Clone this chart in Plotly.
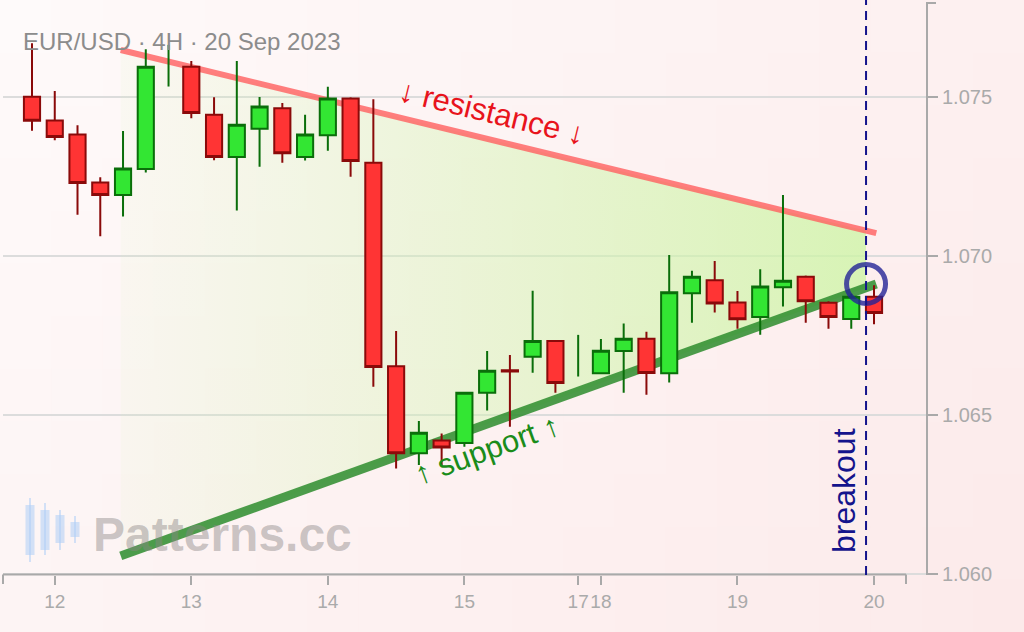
import plotly.graph_objects as go

# ---------------- data ----------------
candle_idx = list(range(38))
open_ = [1.07500, 1.07425, 1.07381, 1.07230, 1.07191, 1.07273, 1.07600, 1.07594,
         1.07443, 1.07310, 1.07399, 1.07464, 1.07310, 1.07379, 1.07494, 1.07292,
         1.06652, 1.06379, 1.06419, 1.06411, 1.06569, 1.06640, 1.06682, 1.06732,
         1.06690, 1.06630, 1.06700, 1.06739, 1.06630, 1.06882, 1.06923, 1.06853,
         1.06807, 1.06901, 1.06934, 1.06852, 1.06801, 1.06871]
high = [1.07668, 1.07518, 1.07410, 1.07247, 1.07392, 1.07649, 1.07663, 1.07612,
        1.07498, 1.07612, 1.07499, 1.07480, 1.07443, 1.07531, 1.07498, 1.07492,
        1.06763, 1.06480, 1.06441, 1.06570, 1.06700, 1.06688, 1.06890, 1.06733,
        1.06751, 1.06738, 1.06787, 1.06761, 1.07002, 1.06953, 1.06983, 1.06889,
        1.06957, 1.07191, 1.06938, 1.06857, 1.06880, 1.06907]
low = [1.07393, 1.07363, 1.07129, 1.07061, 1.07123, 1.07262, 1.07532, 1.07432,
       1.07300, 1.07142, 1.07280, 1.07292, 1.07299, 1.07330, 1.07248, 1.06588,
       1.06331, 1.06342, 1.06342, 1.06399, 1.06513, 1.06462, 1.06632, 1.06569,
       1.06620, 1.06630, 1.06569, 1.06563, 1.06601, 1.06789, 1.06821, 1.06770,
       1.06751, 1.06840, 1.06789, 1.06770, 1.06770, 1.06784]
close = [1.07424, 1.07373, 1.07229, 1.07191, 1.07274, 1.07594, 1.07600, 1.07449,
         1.07310, 1.07412, 1.07469, 1.07322, 1.07381, 1.07494, 1.07298, 1.06650,
         1.06379, 1.06443, 1.06397, 1.06569, 1.06638, 1.06636, 1.06732, 1.06600,
         1.06690, 1.06701, 1.06739, 1.06631, 1.06885, 1.06934, 1.06850, 1.06800,
         1.06903, 1.06921, 1.06857, 1.06807, 1.06871, 1.06820]

tick_idx = [1, 7, 13, 19, 24, 25, 31, 37]
tick_text = ["12", "13", "14", "15", "17", "18", "19", "20"]
y_ticks = [1.060, 1.065, 1.070, 1.075]

res_x = [3.9, 37.1]
res_y = [1.07647, 1.07071]
sup_x = [3.9, 37.1]
sup_y = [1.06056, 1.06911]
breakout_idx = 36.65
highlight_y = 1.06911

title_text = "EUR/USD · 4H · 20 Sep 2023"

# ---------------- layout helpers ----------------
W, H = 1024, 632
ML, MR, MT, MB = 3, 98, 3, 57
PW = W - ML - MR
PH = H - MT - MB
X_RANGE = [-1.2743, -1.2743 + PW / 22.757]
Y_RANGE = [1.059958, 1.077947]


def px(x):
    return (x - ML) / PW


def py(y):
    return (H - MB - y) / PH


def lerp(a, b, t):
    return a + (b - a) * t


def interp_line(xs, ys, x):
    t = (x - xs[0]) / (xs[1] - xs[0])
    return ys[0] + (ys[1] - ys[0]) * t


FONT = "Liberation Sans, Arial, sans-serif"
UP_FILL, UP_LINE = "#33e633", "#0a6e0a"
DN_FILL, DN_LINE = "#ff3434", "#8a0a0a"
AXIS_C = "#a9a9a9"

fig = go.Figure()

# triangle fill (gradient) on base axes
top_end = interp_line(res_x, res_y, breakout_idx)
bot_end = interp_line(sup_x, sup_y, breakout_idx)
fig.add_trace(go.Scatter(
    x=[res_x[0], breakout_idx, breakout_idx, sup_x[0], res_x[0]],
    y=[res_y[0], top_end, bot_end, sup_y[0], res_y[0]],
    mode="lines", line=dict(width=0), fill="toself",
    fillgradient=dict(type="horizontal",
                      colorscale=[[0, "rgba(215,245,185,0.10)"],
                                  [0.5, "rgba(210,245,175,0.45)"],
                                  [1, "rgba(205,245,165,0.78)"]]),
    hoverinfo="skip", showlegend=False))

# trend lines
fig.add_trace(go.Scatter(x=res_x, y=res_y, mode="lines",
                         line=dict(color="rgba(255,95,95,0.8)", width=6),
                         hoverinfo="skip", showlegend=False))
fig.add_trace(go.Scatter(x=sup_x, y=sup_y, mode="lines",
                         line=dict(color="rgba(45,140,45,0.85)", width=9),
                         hoverinfo="skip", showlegend=False))

# candles on overlaid axes so they sit above the pattern drawing
body = [i for i in candle_idx if open_[i] != close[i]]
doji = [i for i in candle_idx if open_[i] == close[i]]
fig.add_trace(go.Candlestick(
    x=[candle_idx[i] for i in body],
    open=[open_[i] for i in body], high=[high[i] for i in body],
    low=[low[i] for i in body], close=[close[i] for i in body],
    increasing=dict(fillcolor=UP_FILL, line=dict(color=UP_LINE, width=2)),
    decreasing=dict(fillcolor=DN_FILL, line=dict(color=DN_LINE, width=2)),
    whiskerwidth=0, showlegend=False, hoverinfo="skip",
    xaxis="x2", yaxis="y2"))
fig.add_trace(go.Ohlc(
    x=[candle_idx[i] for i in doji],
    open=[open_[i] for i in doji], high=[high[i] for i in doji],
    low=[low[i] for i in doji], close=[close[i] for i in doji],
    increasing=dict(line=dict(color=UP_LINE, width=2)),
    decreasing=dict(line=dict(color=UP_LINE, width=2)),
    tickwidth=0, showlegend=False, hoverinfo="skip",
    xaxis="x2", yaxis="y2"))

shapes = []
# background gradient cells
NX, NY = 20, 12
c0 = (254, 250, 250)
c1 = (252, 234, 234)
for i in range(NX):
    for j in range(NY):
        t = 0.65 * (i + 0.5) / NX + 0.35 * (j + 0.5) / NY
        col = "rgb(%d,%d,%d)" % tuple(round(lerp(c0[k], c1[k], t)) for k in range(3))
        shapes.append(dict(type="rect", xref="paper", yref="paper", layer="below",
                           x0=px(i * W / NX), x1=px((i + 1) * W / NX + 1),
                           y0=py((j + 1) * H / NY + 1), y1=py(j * H / NY),
                           line=dict(width=0), fillcolor=col))

# x axis line + outer ticks
shapes.append(dict(type="line", xref="paper", yref="paper", x0=px(3), x1=px(906),
                   y0=py(574.5), y1=py(574.5), line=dict(color=AXIS_C, width=2)))
for xx in (3, 906):
    shapes.append(dict(type="line", xref="paper", yref="paper", x0=px(xx), x1=px(xx),
                       y0=py(574.5), y1=py(584), line=dict(color=AXIS_C, width=2)))
# y axis top outer tick
shapes.append(dict(type="line", xref="paper", yref="paper", x0=px(926), x1=px(936),
                   y0=py(3), y1=py(3), line=dict(color=AXIS_C, width=2)))

# watermark icon
icon = [(30, 498, 562, 505, 555, 9), (45, 503, 555, 510, 550, 9),
        (60, 510, 550, 515, 543, 9), (75, 516, 543, 522, 537, 9)]
for cx, wt, wb, bt, bb, bw in icon:
    shapes.append(dict(type="line", xref="paper", yref="paper", x0=px(cx), x1=px(cx),
                       y0=py(wb), y1=py(wt), line=dict(color="rgba(175,205,245,0.55)", width=2)))
    shapes.append(dict(type="rect", xref="paper", yref="paper",
                       x0=px(cx - bw / 2), x1=px(cx + bw / 2), y0=py(bb), y1=py(bt),
                       line=dict(width=0), fillcolor="rgba(175,205,245,0.55)"))

# highlight circle and breakout line
shapes.append(dict(type="circle", xref="x", yref="y", xsizemode="pixel", ysizemode="pixel",
                   xanchor=breakout_idx, yanchor=highlight_y, x0=-19.5, x1=19.5, y0=-19.5, y1=19.5,
                   line=dict(color="rgba(35,35,150,0.8)", width=5)))
shapes.append(dict(type="line", xref="x", yref="paper", x0=breakout_idx, x1=breakout_idx,
                   y0=0, y1=1.01, line=dict(color="#14148c", width=2, dash="9px,6px")))

annotations = [
    dict(text=title_text, xref="paper", yref="paper", x=px(21), y=py(41),
         xanchor="left", yanchor="middle", showarrow=False,
         font=dict(family=FONT, size=24, color="#8c8c8c")),
    dict(text="↓ resistance ↓", xref="paper", yref="paper", x=px(492), y=py(113),
         xanchor="center", yanchor="middle", showarrow=False, textangle=13.7,
         font=dict(family=FONT, size=31, color="#e8141c")),
    dict(text="↑ support ↑", xref="paper", yref="paper", x=px(487), y=py(449),
         xanchor="center", yanchor="middle", showarrow=False, textangle=-19.8,
         font=dict(family=FONT, size=31, color="#1a8c1a")),
    dict(text="breakout", xref="paper", yref="paper", x=px(844), y=py(491),
         xanchor="center", yanchor="middle", showarrow=False, textangle=-90,
         font=dict(family=FONT, size=32, color="#14148c")),
    dict(text="<b>Patterns.cc</b>", xref="paper", yref="paper", x=px(222), y=py(534),
         xanchor="center", yanchor="middle", showarrow=False,
         font=dict(family=FONT, size=48, color="rgba(140,135,135,0.45)")),
]

fig.update_layout(
    width=W, height=H, margin=dict(l=ML, r=MR, t=MT, b=MB, pad=0),
    paper_bgcolor="#fdf0f0", plot_bgcolor="rgba(0,0,0,0)",
    font=dict(family=FONT), showlegend=False,
    boxgap=0.29, boxgroupgap=0,
    shapes=shapes, annotations=annotations,
    xaxis=dict(range=X_RANGE, tickmode="array", tickvals=tick_idx, ticktext=tick_text,
               showgrid=False, zeroline=False, showline=False, tickangle=0,
               ticks="outside", ticklen=9, tickwidth=2, tickcolor=AXIS_C,
               tickfont=dict(size=19, color="#aaaaaa"),
               rangeslider=dict(visible=False), fixedrange=True),
    yaxis=dict(range=Y_RANGE, side="right", tickmode="array", tickvals=y_ticks,
               ticktext=["%.3f" % v for v in y_ticks],
               showgrid=True, gridcolor="#dcdcdc", gridwidth=1.5, zeroline=False,
               showline=True, linecolor=AXIS_C, linewidth=2,
               ticks="outside", ticklen=10, tickwidth=2, tickcolor=AXIS_C,
               tickfont=dict(size=20, color="#aaaaaa"), fixedrange=True),
    xaxis2=dict(range=X_RANGE, overlaying="x", visible=False,
                rangeslider=dict(visible=False), fixedrange=True),
    yaxis2=dict(range=Y_RANGE, overlaying="y", visible=False, fixedrange=True),
)

fig.write_html("out.html", config={"displayModeBar": False},
               post_script="document.body.style.margin='0';document.body.style.padding='0';")
